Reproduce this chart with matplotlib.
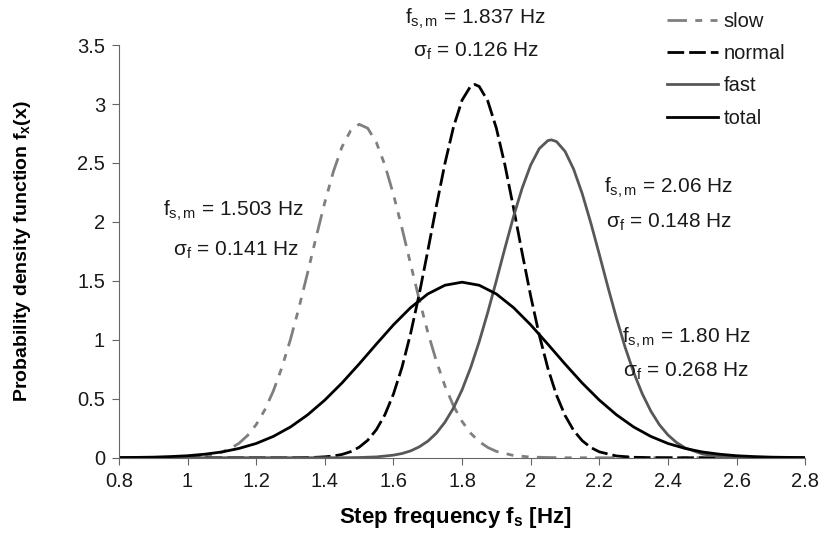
import matplotlib.pyplot as plt
import numpy as np

plt.rcParams['font.family'] = ['Liberation Sans', 'DejaVu Sans']
plt.rcParams['mathtext.fontset'] = 'custom'
plt.rcParams['mathtext.rm'] = 'Liberation Sans'
plt.rcParams['mathtext.it'] = 'Liberation Sans'
plt.rcParams['mathtext.bf'] = 'Liberation Sans:bold'

# values (step frequency in Hz, pdf)
x_slow = [0.8, 0.9, 0.95, 1.0, 1.025, 1.05, 1.075, 1.1, 1.125, 1.15, 1.175, 1.2, 1.225, 1.25,
          1.275, 1.3, 1.325, 1.35, 1.375, 1.4, 1.425, 1.45, 1.475, 1.5, 1.525, 1.55, 1.575,
          1.6, 1.625, 1.65, 1.675, 1.7, 1.725, 1.75, 1.775, 1.8, 1.825, 1.85, 1.875, 1.9,
          1.95, 2.0, 2.05, 2.1, 2.8]
y_slow = [0.0, 0.0, 0.001, 0.005, 0.009, 0.016, 0.028, 0.048, 0.078, 0.123, 0.189, 0.281, 0.405,
          0.566, 0.766, 1.004, 1.276, 1.570, 1.874, 2.166, 2.427, 2.636, 2.773, 2.828, 2.795,
          2.676, 2.483, 2.233, 1.946, 1.643, 1.344, 1.066, 0.820, 0.610, 0.440, 0.308, 0.208,
          0.137, 0.087, 0.054, 0.019, 0.006, 0.002, 0.0, 0.0]

x_normal = [0.8, 1.3, 1.35, 1.375, 1.4, 1.425, 1.45, 1.475, 1.5, 1.525, 1.55, 1.575, 1.6, 1.625,
            1.65, 1.675, 1.7, 1.725, 1.75, 1.775, 1.8, 1.825, 1.837, 1.85, 1.875, 1.9, 1.925,
            1.95, 1.975, 2.0, 2.025, 2.05, 2.075, 2.1, 2.125, 2.15, 2.175, 2.2, 2.25, 2.3,
            2.35, 2.4, 2.8]
y_normal = [0.0, 0.0, 0.002, 0.004, 0.008, 0.015, 0.028, 0.051, 0.089, 0.148, 0.237, 0.364,
            0.540, 0.768, 1.053, 1.385, 1.753, 2.133, 2.495, 2.805, 3.033, 3.152, 3.166, 3.149,
            3.025, 2.794, 2.481, 2.118, 1.738, 1.371, 1.040, 0.759, 0.532, 0.359, 0.232, 0.145,
            0.087, 0.050, 0.015, 0.004, 0.001, 0.0, 0.0]

x_fast = [0.8, 1.45, 1.5, 1.55, 1.6, 1.625, 1.65, 1.675, 1.7, 1.725, 1.75, 1.775, 1.8, 1.825,
          1.85, 1.875, 1.9, 1.925, 1.95, 1.975, 2.0, 2.025, 2.05, 2.06, 2.075, 2.1, 2.125,
          2.15, 2.175, 2.2, 2.225, 2.25, 2.275, 2.3, 2.325, 2.35, 2.375, 2.4, 2.425, 2.45,
          2.5, 2.55, 2.6, 2.65, 2.7, 2.8]
y_fast = [0.0, 0.0, 0.002, 0.007, 0.022, 0.036, 0.058, 0.092, 0.140, 0.208, 0.301, 0.422,
          0.576, 0.764, 0.985, 1.234, 1.503, 1.779, 2.046, 2.286, 2.483, 2.622, 2.690, 2.696,
          2.682, 2.599, 2.448, 2.241, 1.993, 1.724, 1.448, 1.183, 0.938, 0.724, 0.543, 0.396,
          0.280, 0.193, 0.129, 0.084, 0.032, 0.011, 0.003, 0.001, 0.0, 0.0]

x_total = [0.8, 0.85, 0.9, 0.95, 1.0, 1.05, 1.1, 1.15, 1.2, 1.25, 1.3, 1.35, 1.4, 1.45, 1.5,
           1.55, 1.6, 1.65, 1.7, 1.75, 1.8, 1.85, 1.9, 1.95, 2.0, 2.05, 2.1, 2.15, 2.2, 2.25,
           2.3, 2.35, 2.4, 2.45, 2.5, 2.55, 2.6, 2.65, 2.7, 2.75, 2.8]
y_total = [0.001, 0.003, 0.005, 0.010, 0.017, 0.030, 0.049, 0.079, 0.121, 0.181, 0.261, 0.364,
           0.489, 0.634, 0.795, 0.963, 1.127, 1.273, 1.389, 1.463, 1.489, 1.463, 1.389, 1.273,
           1.127, 0.963, 0.795, 0.634, 0.489, 0.364, 0.261, 0.181, 0.121, 0.079, 0.049, 0.030,
           0.017, 0.010, 0.005, 0.003, 0.001]

x_ticks = [0.8, 1.0, 1.2, 1.4, 1.6, 1.8, 2.0, 2.2, 2.4, 2.6, 2.8]
x_ticklabels = ['0.8', '1', '1.2', '1.4', '1.6', '1.8', '2', '2.2', '2.4', '2.6', '2.8']
y_ticks = [0, 0.5, 1, 1.5, 2, 2.5, 3, 3.5]
y_ticklabels = ['0', '0.5', '1', '1.5', '2', '2.5', '3', '3.5']

fig = plt.figure(figsize=(8.2, 5.43), dpi=100)
ax = fig.add_axes([0.145, 0.157, 0.837, 0.76])

l1, = ax.plot(x_slow, y_slow, color='#7f7f7f', lw=2.0,
              dashes=(7, 3, 2.5, 3, 2.5, 3), label='slow')
l2, = ax.plot(x_normal, y_normal, color='black', lw=2.0, dashes=(6, 1.8), label='normal')
l3, = ax.plot(x_fast, y_fast, color='#585858', lw=2.0, label='fast')
l4, = ax.plot(x_total, y_total, color='black', lw=2.0, label='total')

ax.set_xlim(0.8, 2.8)
ax.set_ylim(0, 3.5)
ax.set_xticks(x_ticks)
ax.set_xticklabels(x_ticklabels)
ax.set_yticks(y_ticks)
ax.set_yticklabels(y_ticklabels)
ax.spines['top'].set_visible(False)
ax.spines['right'].set_visible(False)
ax.spines['left'].set_color('#666666')
ax.spines['bottom'].set_color('#666666')
ax.tick_params(direction='out', length=5, color='#666666', labelsize=14.5,
               labelcolor='#1a1a1a', pad=5)

ax.set_xlabel(r'Step frequency f$_{\mathbf{s}}$ [Hz]', fontsize=16, fontweight='bold')
ax.xaxis.set_label_coords(0.49, -0.145)
ax.xaxis.label.set_va('center')
ax.set_ylabel(r'Probability density function f$_{\mathbf{x}}$(x)', fontsize=14,
              fontweight='bold')
ax.yaxis.set_label_coords(-0.141, 0.5)
ax.yaxis.label.set_va('center')

fs = 15
tc = '#1a1a1a'
ax.text(1.84, 3.72, r'f$_{\mathrm{s,m}}$ = 1.837 Hz', ha='center', va='center', fontsize=fs, color=tc)
ax.text(1.84, 3.45, r'σ$_{\mathrm{f}}$ = 0.126 Hz', ha='center', va='center', fontsize=fs, color=tc)
ax.text(1.135, 2.09, r'f$_{\mathrm{s,m}}$ = 1.503 Hz', ha='center', va='center', fontsize=fs, color=tc)
ax.text(1.14, 1.76, r'σ$_{\mathrm{f}}$ = 0.141 Hz', ha='center', va='center', fontsize=fs, color=tc)
ax.text(2.403, 2.29, r'f$_{\mathrm{s,m}}$ = 2.06 Hz', ha='center', va='center', fontsize=fs, color=tc)
ax.text(2.403, 2.0, r'σ$_{\mathrm{f}}$ = 0.148 Hz', ha='center', va='center', fontsize=fs, color=tc)
ax.text(2.453, 1.02, r'f$_{\mathrm{s,m}}$ = 1.80 Hz', ha='center', va='center', fontsize=fs, color=tc)
ax.text(2.453, 0.73, r'σ$_{\mathrm{f}}$ = 0.268 Hz', ha='center', va='center', fontsize=fs, color=tc)

fig.legend(handles=[l1, l2, l3, l4], loc='upper left', bbox_to_anchor=(0.801, 0.997),
           frameon=False, fontsize=14.5, labelspacing=0.66, handlelength=2.55,
           handletextpad=0.25, borderpad=0, labelcolor=tc)

fig.savefig('out.png', dpi=100)
